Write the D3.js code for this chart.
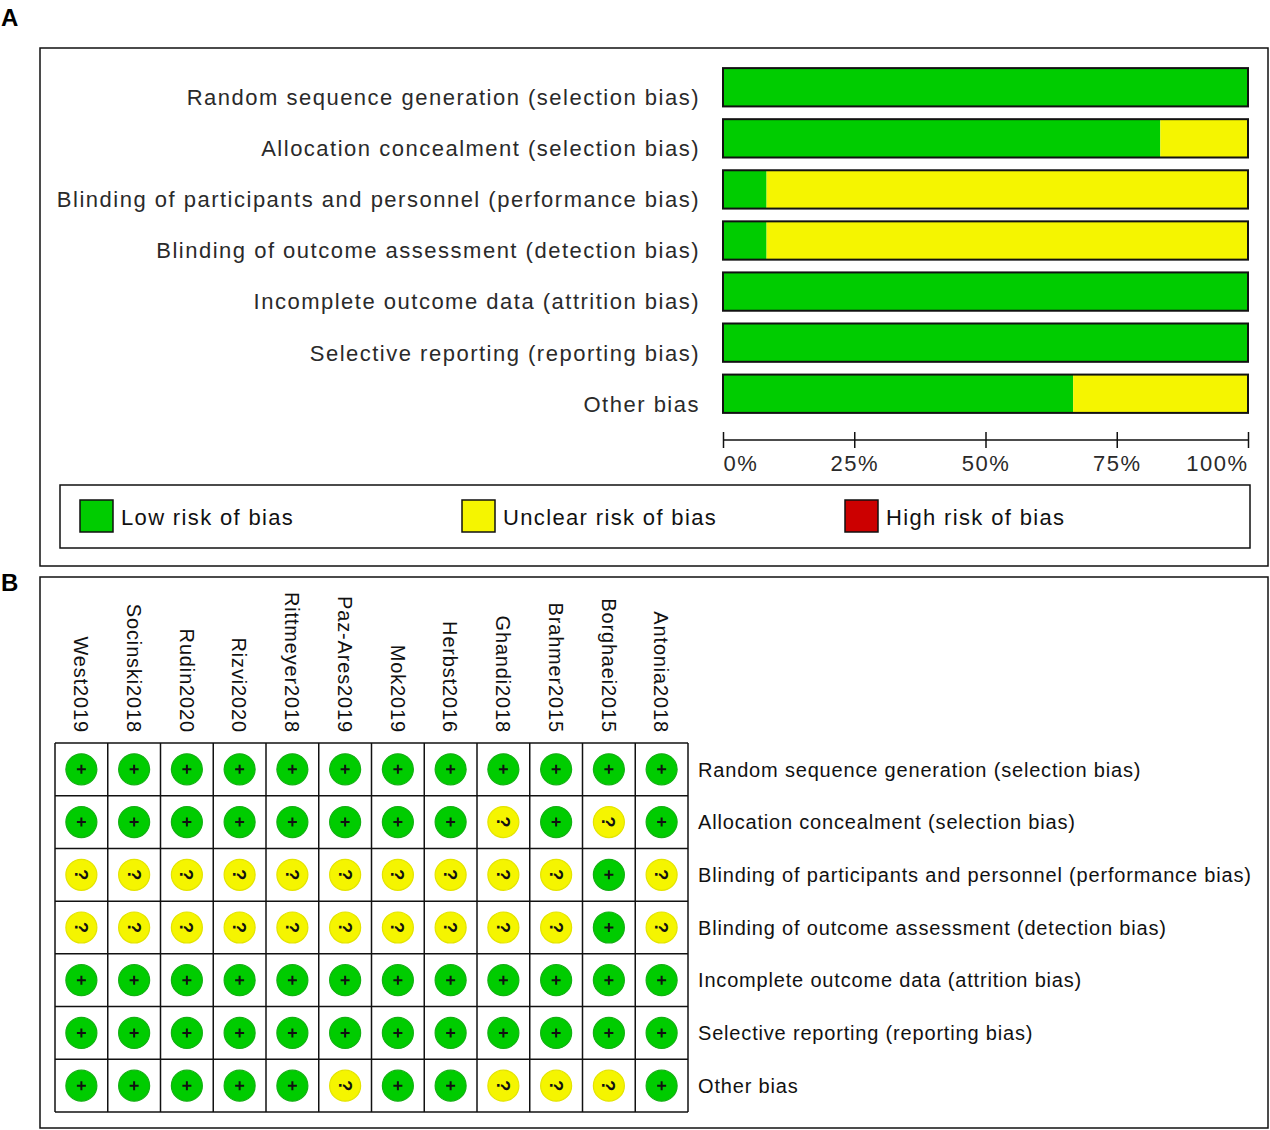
<!DOCTYPE html>
<html>
<head>
<meta charset="utf-8">
<script src="https://cdn.jsdelivr.net/npm/d3@7/dist/d3.min.js"></script>
<style>
  html, body { margin: 0; padding: 0; background: #fff; }
  svg { display: block; }
  text { font-family: "Liberation Sans", Arial, sans-serif; }
</style>
</head>
<body>
<svg id="chart" width="1270" height="1130"></svg>
<script>
// ---------- DATA ----------
const domains = [
  "Random sequence generation (selection bias)",
  "Allocation concealment (selection bias)",
  "Blinding of participants and personnel (performance bias)",
  "Blinding of outcome assessment (detection bias)",
  "Incomplete outcome data (attrition bias)",
  "Selective reporting (reporting bias)",
  "Other bias"
];
// Panel A: percentages of studies per judgement
const lowPct     = [100, 83.3, 8.3, 8.3, 100, 100, 66.7];
const unclearPct = [0, 16.7, 91.7, 91.7, 0, 0, 33.3];
const highPct    = [0, 0, 0, 0, 0, 0, 0];
const tickValues = [0, 25, 50, 75, 100];
const tickLabels = ["0%", "25%", "50%", "75%", "100%"];
const legendLabels = ["Low risk of bias", "Unclear risk of bias", "High risk of bias"];

// Panel B: judgements per study ("+" low, "?" unclear)
const studies = ["West2019", "Socinski2018", "Rudin2020", "Rizvi2020", "Rittmeyer2018", "Paz-Ares2019",
                 "Mok2019", "Herbst2016", "Ghandi2018", "Brahmer2015", "Borghaei2015", "Antonia2018"];
const judgements = [
  ["+","+","+","+","+","+","+","+","+","+","+","+"],
  ["+","+","+","+","+","+","+","+","?","+","?","+"],
  ["?","?","?","?","?","?","?","?","?","?","+","?"],
  ["?","?","?","?","?","?","?","?","?","?","+","?"],
  ["+","+","+","+","+","+","+","+","+","+","+","+"],
  ["+","+","+","+","+","+","+","+","+","+","+","+"],
  ["+","+","+","+","+","?","+","+","?","?","?","+"]
];

// ---------- STYLE ----------
const GREEN = "#00cc00", YELLOW = "#f5f500", RED = "#cc0000";
const svg = d3.select("#chart");

// Panel letters
svg.append("text").attr("x", 1).attr("y", 26).attr("font-size", 24).attr("font-weight", "bold").text("A");
svg.append("text").attr("x", 1).attr("y", 591).attr("font-size", 24).attr("font-weight", "bold").text("B");

// Panel frames
svg.append("rect").attr("x", 40).attr("y", 48).attr("width", 1228).attr("height", 518)
  .attr("fill", "none").attr("stroke", "#111").attr("stroke-width", 1.5);
svg.append("rect").attr("x", 40).attr("y", 577).attr("width", 1228).attr("height", 551)
  .attr("fill", "none").attr("stroke", "#111").attr("stroke-width", 1.5);

// ---------- PANEL A ----------
const x = d3.scaleLinear().domain([0, 100]).range([723, 1248]);
const y = d3.scaleBand().domain(domains).range([63, 418]).paddingInner(0.25).paddingOuter(0.1);

const gA = svg.append("g");
domains.forEach((dom, i) => {
  const segs = [
    {v0: 0, v1: lowPct[i], c: GREEN},
    {v0: lowPct[i], v1: lowPct[i] + unclearPct[i], c: YELLOW},
    {v0: lowPct[i] + unclearPct[i], v1: lowPct[i] + unclearPct[i] + highPct[i], c: RED}
  ].filter(s => s.v1 > s.v0);
  gA.selectAll(null).data(segs).enter().append("rect")
    .attr("x", s => x(s.v0)).attr("y", y(dom))
    .attr("width", s => x(s.v1) - x(s.v0)).attr("height", y.bandwidth())
    .attr("fill", s => s.c);
  gA.append("rect").attr("x", x(0)).attr("y", y(dom))
    .attr("width", x(100) - x(0)).attr("height", y.bandwidth())
    .attr("fill", "none").attr("stroke", "#111").attr("stroke-width", 2);
  gA.append("text").attr("x", 700).attr("y", y(dom) + y.bandwidth() / 2 + 10)
    .attr("dy", "0.36em").attr("text-anchor", "end")
    .attr("font-size", 22).attr("letter-spacing", 1.5).attr("fill", "#2a2a2a")
    .text(dom);
});

// Axis
const axis = d3.axisBottom(x).tickValues(tickValues).tickSize(8)
  .tickFormat((d, i) => tickLabels[i]);
const gAx = svg.append("g").attr("transform", "translate(0,440)").call(axis);
gAx.select(".domain").attr("d", `M${x(0)},0H${x(100)}`).attr("stroke", "#111").attr("stroke-width", 1.5);
gAx.selectAll(".tick line").attr("y1", -8).attr("y2", 8).attr("stroke", "#111").attr("stroke-width", 1.5);
gAx.selectAll(".tick text")
  .attr("y", 0).attr("dy", 0).attr("transform", "translate(0,31)")
  .attr("font-family", "Liberation Sans, Arial, sans-serif")
  .attr("font-size", 22).attr("letter-spacing", 1.5).attr("fill", "#2a2a2a")
  .attr("text-anchor", (d, i) => i === 0 ? "start" : (i === tickValues.length - 1 ? "end" : "middle"));

// Legend
svg.append("rect").attr("x", 60).attr("y", 485).attr("width", 1190).attr("height", 63)
  .attr("fill", "none").attr("stroke", "#111").attr("stroke-width", 1.5);
const legendColors = [GREEN, YELLOW, RED];
const legendX = [80, 462, 845];
legendLabels.forEach((lab, i) => {
  svg.append("rect").attr("x", legendX[i]).attr("y", 500).attr("width", 33).attr("height", 32)
    .attr("fill", legendColors[i]).attr("stroke", "#111").attr("stroke-width", 1.5);
  svg.append("text").attr("x", legendX[i] + 41).attr("y", 517).attr("dy", "0.36em")
    .attr("font-size", 22).attr("letter-spacing", 1.35).attr("fill", "#111").text(lab);
});

// ---------- PANEL B ----------
const cx = d3.scaleBand().domain(studies).range([55, 688]);
const cy = d3.scaleBand().domain(domains).range([743, 1112]);
const gB = svg.append("g");

// Study names rotated
studies.forEach(s => {
  gB.append("text")
    .attr("transform", `translate(${cx(s) + cx.bandwidth() / 2},733) rotate(90)`)
    .attr("text-anchor", "end").attr("dy", "0.36em")
    .attr("font-size", 20).attr("letter-spacing", 0.85).attr("fill", "#111")
    .text(s);
});

// Cells
domains.forEach((dom, r) => {
  studies.forEach((s, c) => {
    const j = judgements[r][c];
    const px = cx(s) + cx.bandwidth() / 2, py = cy(dom) + cy.bandwidth() / 2;
    gB.append("circle").attr("cx", px).attr("cy", py).attr("r", 15.5)
      .attr("fill", j === "+" ? GREEN : (j === "?" ? YELLOW : RED))
      .attr("stroke", j === "+" ? "#14b014" : "#e4e400").attr("stroke-width", 1.2);
    if (j === "+") {
      gB.append("path").attr("d", `M${px - 4.5},${py}H${px + 4.5}M${px},${py - 4.5}V${py + 4.5}`)
        .attr("stroke", "#111").attr("stroke-width", 2);
    } else {
      gB.append("text").attr("transform", `translate(${px},${py}) rotate(90)`)
        .attr("text-anchor", "middle").attr("dy", "0.36em")
        .attr("font-size", 18).attr("font-weight", "bold").attr("fill", "#111").text("?");
    }
  });
});

// Grid lines
const gridG = gB.append("g").attr("stroke", "#111").attr("stroke-width", 1.5);
studies.concat(["__end"]).forEach((s, i) => {
  const xx = i < studies.length ? cx(s) : cx.range()[1];
  gridG.append("line").attr("x1", xx).attr("x2", xx).attr("y1", 743).attr("y2", 1112);
});
domains.concat(["__end"]).forEach((d, i) => {
  const yy = i < domains.length ? cy(d) : cy.range()[1];
  gridG.append("line").attr("x1", 55).attr("x2", 688).attr("y1", yy).attr("y2", yy);
});

// Row labels
domains.forEach(dom => {
  gB.append("text").attr("x", 698).attr("y", cy(dom) + cy.bandwidth() / 2).attr("dy", "0.36em")
    .attr("font-size", 20).attr("letter-spacing", 0.82).attr("fill", "#111").text(dom);
});
</script>
</body>
</html>
